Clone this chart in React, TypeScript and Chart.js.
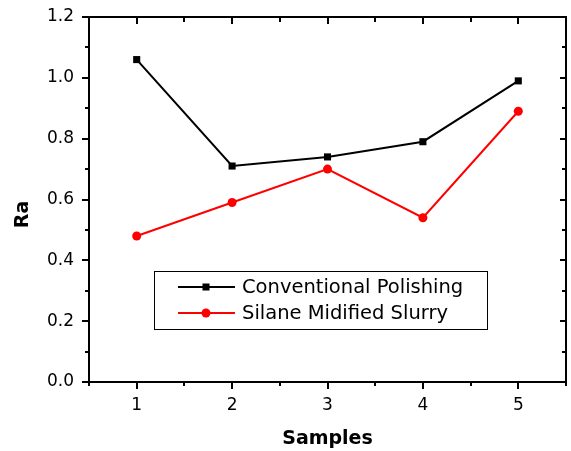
import React, { useEffect, useRef } from "react";
import { Chart, registerables } from "chart.js";

Chart.register(...registerables);

const samples = ["1", "2", "3", "4", "5"];
const conventional = [1.06, 0.71, 0.74, 0.79, 0.99];
const silane = [0.48, 0.59, 0.7, 0.54, 0.89];
const yMajor = [0, 0.2, 0.4, 0.6, 0.8, 1.0, 1.2];
const yMinor = [0.1, 0.3, 0.5, 0.7, 0.9, 1.1];
const seriesNames = ["Conventional Polishing", "Silane Midified Slurry"];

const FONT = "'DejaVu Sans', sans-serif";

const framePlugin = {
  id: "frame",
  afterDraw(chart: any) {
    const ctx = chart.ctx;
    const { left, right, top, bottom } = chart.chartArea;
    const x = chart.scales.x;
    const y = chart.scales.y;
    ctx.save();
    ctx.strokeStyle = "#000";
    ctx.lineWidth = 2;
    ctx.lineCap = "butt";
    ctx.beginPath();
    for (let i = 0; i < samples.length; i++) {
      const px = Math.round(x.getPixelForValue(i));
      ctx.moveTo(px, bottom);
      ctx.lineTo(px, bottom + 7);
      ctx.moveTo(px, top);
      ctx.lineTo(px, top + 7);
    }
    for (let i = -1; i < samples.length; i++) {
      const px = Math.round(x.getPixelForValue(i + 0.5));
      ctx.moveTo(px, bottom);
      ctx.lineTo(px, bottom + 4);
      ctx.moveTo(px, top);
      ctx.lineTo(px, top + 5);
    }
    for (const v of yMajor) {
      const py = Math.round(y.getPixelForValue(v));
      ctx.moveTo(left - 7, py);
      ctx.lineTo(left, py);
      ctx.moveTo(right, py);
      ctx.lineTo(right - 6, py);
    }
    for (const v of yMinor) {
      const py = Math.round(y.getPixelForValue(v));
      ctx.moveTo(left - 4, py);
      ctx.lineTo(left, py);
      ctx.moveTo(right, py);
      ctx.lineTo(right - 4, py);
    }
    ctx.stroke();
    ctx.strokeRect(left, top, right - left, bottom - top);

    ctx.fillStyle = "#000";
    ctx.font = `bold 19px ${FONT}`;
    ctx.textAlign = "center";
    ctx.textBaseline = "middle";
    ctx.save();
    ctx.translate(23, (top + bottom) / 2 + 15);
    ctx.rotate(-Math.PI / 2);
    ctx.fillText("Ra", 0, 0);
    ctx.restore();

    const bx = left + 65;
    const by = top + 254;
    const bw = 333;
    const bh = 58;
    ctx.lineWidth = 1;
    ctx.fillStyle = "#fff";
    ctx.fillRect(bx + 0.5, by + 0.5, bw, bh);
    ctx.strokeStyle = "#000";
    ctx.strokeRect(bx + 0.5, by + 0.5, bw, bh);
    chart.data.datasets.forEach((ds: any, i: number) => {
      const ry = by + 16 + i * 26;
      ctx.strokeStyle = ds.borderColor;
      ctx.lineWidth = 2;
      ctx.beginPath();
      ctx.moveTo(bx + 24, ry);
      ctx.lineTo(bx + 81, ry);
      ctx.stroke();
      ctx.fillStyle = ds.pointBackgroundColor;
      const cx = bx + 52;
      if (ds.pointStyle === "rect") {
        ctx.fillRect(cx - 3.5, ry - 3.5, 7, 7);
      } else {
        ctx.beginPath();
        ctx.arc(cx, ry, 4.5, 0, Math.PI * 2);
        ctx.fill();
      }
      ctx.fillStyle = "#000";
      ctx.font = `19.5px ${FONT}`;
      ctx.textAlign = "left";
      ctx.textBaseline = "middle";
      ctx.fillText(ds.label, bx + 88, ry + 1);
    });
    ctx.restore();
  },
};

export default function App() {
  const ref = useRef<HTMLCanvasElement>(null);
  useEffect(() => {
    const chart = new Chart(ref.current as HTMLCanvasElement, {
      type: "line",
      data: {
        labels: samples,
        datasets: [
          {
            label: seriesNames[0],
            data: conventional,
            borderColor: "#000",
            backgroundColor: "#000",
            pointBackgroundColor: "#000",
            pointBorderColor: "#000",
            pointStyle: "rect",
            pointRadius: 5,
            pointBorderWidth: 0,
            borderWidth: 2,
            tension: 0,
          },
          {
            label: seriesNames[1],
            data: silane,
            borderColor: "#ff0000",
            backgroundColor: "#ff0000",
            pointBackgroundColor: "#ff0000",
            pointBorderColor: "#ff0000",
            pointStyle: "circle",
            pointRadius: 4.5,
            pointBorderWidth: 0,
            borderWidth: 2,
            tension: 0,
          },
        ],
      },
      options: {
        animation: false,
        responsive: false,
        devicePixelRatio: 1,
        layout: { padding: { top: 17, right: 4, left: 0, bottom: 0 } },
        plugins: { legend: { display: false }, tooltip: { enabled: false } },
        scales: {
          x: {
            type: "category",
            offset: true,
            grid: { display: false, drawTicks: false },
            border: { display: false },
            ticks: {
              color: "#000",
              font: { family: FONT, size: 17 },
              padding: 13,
              maxRotation: 0,
            },
            title: {
              display: true,
              text: "Samples",
              color: "#000",
              font: { family: FONT, size: 19, weight: "bold" },
              padding: { top: 0, bottom: 1 },
            },
            afterFit: (s: any) => {
              s.height = 69;
              s.paddingLeft = 0;
              s.paddingRight = 0;
            },
          },
          y: {
            type: "linear",
            min: 0,
            max: 1.2,
            grid: { display: false, drawTicks: false },
            border: { display: false },
            afterBuildTicks: (s: any) => {
              s.ticks = yMajor.map((v) => ({ value: v }));
            },
            ticks: {
              color: "#000",
              font: { family: FONT, size: 17 },
              padding: 15,
              callback: (v: any) => Number(v).toFixed(1),
            },
            afterFit: (s: any) => {
              s.width = 89;
              s.paddingTop = 0;
              s.paddingBottom = 0;
            },
          },
        },
      },
      plugins: [framePlugin],
    });
    return () => chart.destroy();
  }, []);
  return (
    <div style={{ position: "absolute", left: 0, top: 0, width: 571, height: 451, background: "#fff" }}>
      <canvas ref={ref} width={571} height={451} />
    </div>
  );
}
